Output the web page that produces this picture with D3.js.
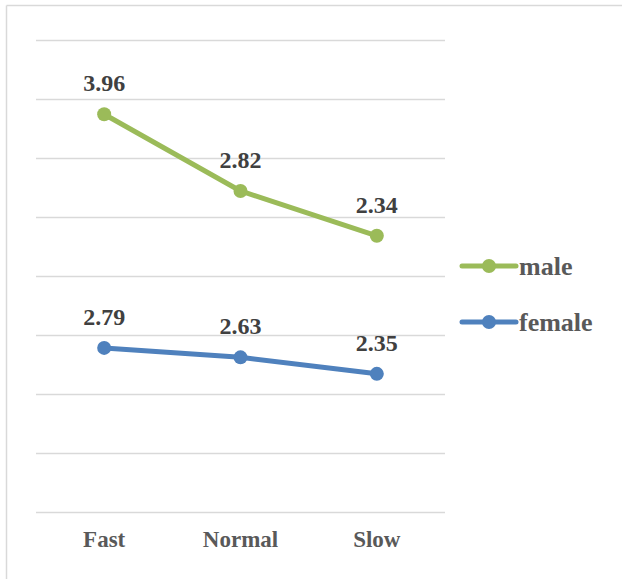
<!DOCTYPE html>
<html>
<head>
<meta charset="utf-8">
<script src="https://cdn.jsdelivr.net/npm/d3@7"></script>
<style>
  html, body { margin: 0; padding: 0; background: #fff; }
  svg { display: block; }
</style>
</head>
<body>
<svg id="chart" width="622" height="579"></svg>
<script>
// Speed categories and mean values per group (stacked line chart)
const categories = ["Fast", "Normal", "Slow"];
const maleValues = [3.96, 2.82, 2.34];
const femaleValues = [2.79, 2.63, 2.35];
const seriesKeys = ["female", "male"];
const yTicks = [0, 1, 2, 3, 4, 5, 6, 7, 8];

const colors = { male: "#9bbb59", female: "#4f81bd" };
const legendOrder = ["male", "female"];
const fontFamily = "'Times New Roman', 'Liberation Serif', Tinos, serif";

const rows = categories.map((c, i) => ({ category: c, male: maleValues[i], female: femaleValues[i] }));
const stacked = d3.stack().keys(seriesKeys)(rows);

const svg = d3.select("#chart")
  .attr("font-family", fontFamily)
  .attr("font-weight", "bold");

// Chart area frame (top and left edges)
svg.append("line").attr("x1", 6.5).attr("x2", 622).attr("y1", 5.5).attr("y2", 5.5)
  .attr("stroke", "#d9d9d9").attr("stroke-width", 1.5);
svg.append("line").attr("x1", 6.5).attr("x2", 6.5).attr("y1", 5.5).attr("y2", 579)
  .attr("stroke", "#d9d9d9").attr("stroke-width", 1.5);

const x = d3.scalePoint().domain(categories).range([36, 445]).padding(0.5);
const y = d3.scaleLinear().domain([0, 8]).range([512.5, 40.5]);

// Horizontal gridlines
svg.append("g").selectAll("line").data(yTicks).join("line")
  .attr("x1", 36).attr("x2", 445)
  .attr("y1", d => y(d)).attr("y2", d => y(d))
  .attr("stroke", "#d9d9d9").attr("stroke-width", 1.5);

// Category labels
svg.append("g").selectAll("text").data(categories).join("text")
  .attr("x", d => x(d)).attr("y", 547)
  .attr("text-anchor", "middle")
  .attr("font-size", 23).attr("fill", "#595959")
  .text(d => d);

const line = d3.line().x(d => x(d.data.category)).y(d => y(d[1]));

stacked.forEach(layer => {
  const key = layer.key;
  const g = svg.append("g");
  g.append("path").datum(layer)
    .attr("d", line)
    .attr("fill", "none")
    .attr("stroke", colors[key])
    .attr("stroke-width", 5)
    .attr("stroke-linecap", "round")
    .attr("stroke-linejoin", "round");
  g.selectAll("circle").data(layer).join("circle")
    .attr("cx", d => x(d.data.category))
    .attr("cy", d => y(d[1]))
    .attr("r", 7)
    .attr("fill", colors[key]);
  g.selectAll("text").data(layer).join("text")
    .attr("x", d => x(d.data.category))
    .attr("y", d => y(d[1]) - 23)
    .attr("text-anchor", "middle")
    .attr("font-size", 24).attr("fill", "#404040")
    .text(d => d.data[key].toFixed(2));
});

// Legend
const legend = svg.append("g");
legendOrder.forEach((key, i) => {
  const ly = 266 + i * 56;
  legend.append("line")
    .attr("x1", 462).attr("x2", 516).attr("y1", ly).attr("y2", ly)
    .attr("stroke", colors[key]).attr("stroke-width", 5).attr("stroke-linecap", "round");
  legend.append("circle").attr("cx", 489).attr("cy", ly).attr("r", 7).attr("fill", colors[key]);
  legend.append("text")
    .attr("x", 519).attr("y", ly + 9)
    .attr("font-size", 26).attr("fill", "#595959")
    .text(key);
});
</script>
</body>
</html>
